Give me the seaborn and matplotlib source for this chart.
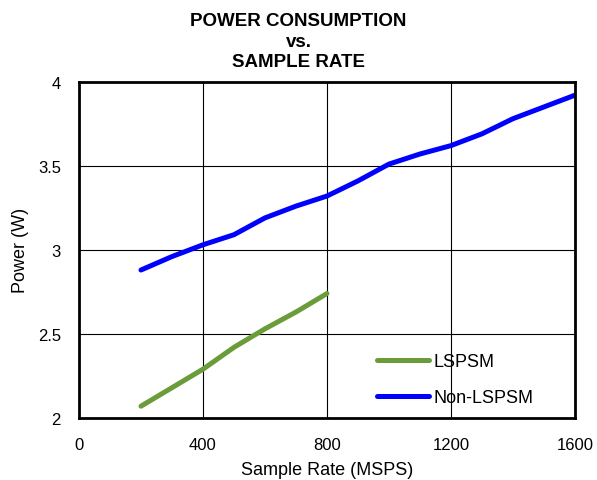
import matplotlib
matplotlib.use("Agg")
import matplotlib.pyplot as plt
import seaborn as sns
import pandas as pd

# values
rate_lspsm = [200, 300, 400, 500, 600, 700, 800]
power_lspsm = [2.07, 2.18, 2.29, 2.42, 2.53, 2.63, 2.74]

rate_non = [200, 300, 400, 500, 600, 700, 800, 900, 1000, 1100, 1200, 1300, 1400, 1500, 1600]
power_non = [2.88, 2.96, 3.03, 3.09, 3.19, 3.26, 3.32, 3.41, 3.51, 3.57, 3.62, 3.69, 3.78, 3.85, 3.92]

x_ticks = [0, 400, 800, 1200, 1600]
y_ticks = [2, 2.5, 3, 3.5, 4]
y_labels = ["2", "2.5", "3", "3.5", "4"]

df = pd.concat([
    pd.DataFrame({"rate": rate_lspsm, "power": power_lspsm, "mode": "LSPSM"}),
    pd.DataFrame({"rate": rate_non, "power": power_non, "mode": "Non-LSPSM"}),
])

sns.set_style("white")
plt.rcParams['font.family'] = ['Liberation Sans', 'DejaVu Sans']
plt.rcParams['text.color'] = 'black'
plt.rcParams['axes.labelcolor'] = 'black'
plt.rcParams['xtick.color'] = 'black'
plt.rcParams['ytick.color'] = 'black'

fig = plt.figure(figsize=(5.97, 4.81), dpi=100)
ax = fig.add_axes([0.1323, 0.129, 0.8307, 0.699])

sns.lineplot(data=df, x="rate", y="power", hue="mode",
             palette={"LSPSM": "#6a9c3a", "Non-LSPSM": "#0000ff"},
             linewidth=3.6, ax=ax, solid_capstyle="round")

ax.set_xlim(0, 1600)
ax.set_ylim(2, 4)
ax.set_xticks(x_ticks)
ax.set_yticks(y_ticks)
ax.set_yticklabels(y_labels)
ax.grid(True, color="black", linewidth=0.8)
ax.tick_params(labelsize=12, length=0)
ax.tick_params(axis="x", pad=14)
ax.tick_params(axis="y", pad=13)
for s in ax.spines.values():
    s.set_color("black")
    s.set_linewidth(2)

ax.set_xlabel("Sample Rate (MSPS)", fontsize=13, labelpad=6)
ax.set_ylabel("Power (W)", fontsize=13, labelpad=6)
fig.suptitle("POWER CONSUMPTION\nvs.\nSAMPLE RATE", fontsize=13.5, fontweight="bold",
             y=0.973, linespacing=1.28)

leg = ax.legend(title=None, loc="lower left", frameon=False, fontsize=13,
                handlelength=2.9, handletextpad=0.25, labelspacing=1.05,
                borderpad=0, borderaxespad=0, bbox_to_anchor=(0.60, 0.035))
for line in leg.get_lines():
    line.set_linewidth(3.6)

fig.savefig("out.png", dpi=100)
